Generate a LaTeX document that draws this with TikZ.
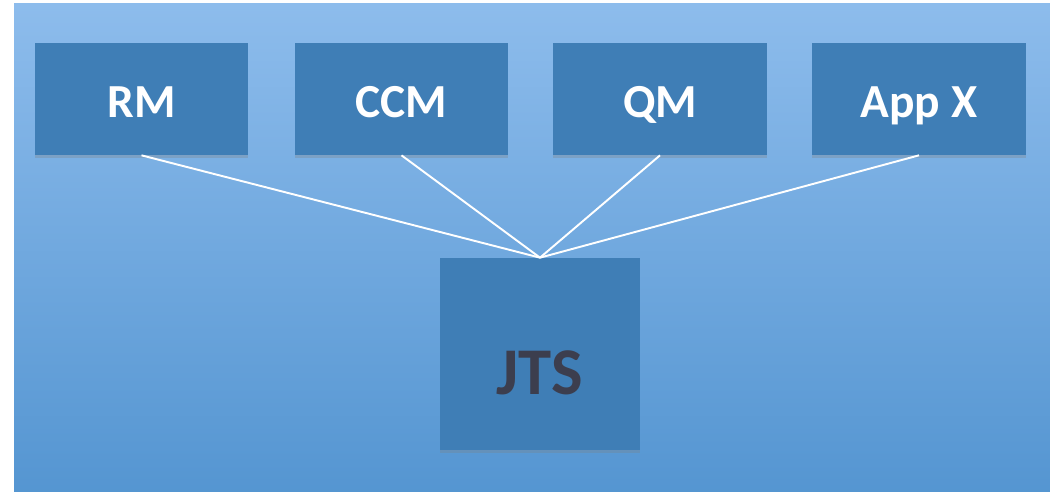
\documentclass[tikz,border=0pt]{standalone}
\usepackage{fontspec}
\setmainfont{Carlito}
\usepackage{tikz}
\usetikzlibrary{shadows}
\definecolor{bgtop}{HTML}{8DBCEC}
\definecolor{bgbottom}{HTML}{5495D1}
\definecolor{boxblue}{HTML}{3F7EB6}
\definecolor{jtsgray}{HTML}{3C3E4E}
\tikzstyle{module} = [rectangle, 
minimum width=4.28cm, 
minimum height=2.24cm, 
text height=0.76cm, 
text depth=0pt, 
text centered, 
fill=boxblue, 
drop shadow={shadow xshift=0pt, shadow yshift=-2pt, opacity=0.3}, 
text=white, 
font=\fontsize{27}{30}\selectfont\bfseries]
\tikzstyle{core} = [rectangle, 
minimum width=4cm, 
minimum height=3.84cm, 
text height=1.62cm, 
text depth=0pt, 
text centered, 
fill=boxblue, 
drop shadow={shadow xshift=0pt, shadow yshift=-2pt, opacity=0.3}, 
text=jtsgray, 
font=\fontsize{38}{42}\selectfont\bfseries]
\tikzstyle{link} = [white, line width=1.1pt]
\begin{document}
\begin{tikzpicture}[x=0.02cm, y=-0.02cm]
    \useasboundingbox (0,0) rectangle (1050,492);
    \fill [white] (-5,-5) rectangle (1055,497);
    \shade [top color=bgtop, bottom color=bgbottom] (14,4) rectangle (1056,498);

    \node (rm) [module] at (141.5,99) {RM};
    \node (ccm) [module] at (401.5,99) {CCM};
    \node (qm) [module] at (660,99) {QM};
    \node (appx) [module] at (919,99) {App X};
    \node (jts) [core] at (540,354) {JTS};

    \draw [link] (rm.south) -- (jts.north);
    \draw [link] (ccm.south) -- (jts.north);
    \draw [link] (qm.south) -- (jts.north);
    \draw [link] (appx.south) -- (jts.north);
\end{tikzpicture}
\end{document}
